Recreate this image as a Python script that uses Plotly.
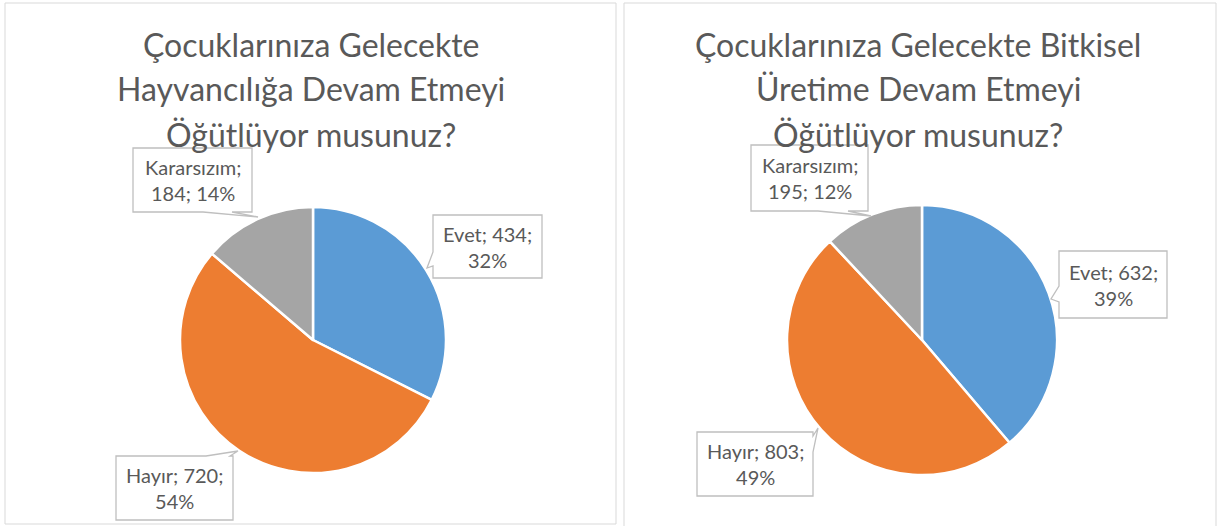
import plotly.graph_objects as go

W, H = 1220, 526

categories = ["Evet", "Hayır", "Kararsızım"]
left_values = [434, 720, 184]
left_pcts = ["32%", "54%", "14%"]
right_values = [632, 803, 195]
right_pcts = ["39%", "49%", "12%"]
left_title = ["Çocuklarınıza Gelecekte", "Hayvancılığa Devam Etmeyi", "Öğütlüyor musunuz?"]
right_title = ["Çocuklarınıza Gelecekte Bitkisel", "Üretime Devam Etmeyi", "Öğütlüyor musunuz?"]
colors = ["#5B9BD5", "#ED7D31", "#A5A5A5"]

FONT = "Lato, 'Open Sans', sans-serif"
TXT = "#595959"

def px(x):
    return x / W

def py(y):
    return 1 - y / H

fig = go.Figure()

# pie geometry (pixels): center x, center y, radius
pies = [
    dict(vals=left_values, pcts=left_pcts, cx=313, cy=340, r=133, title=left_title, tx=311,
         boxes=[(433, 215, 542, 278), (116, 456, 233, 520), (133, 148, 252, 212)],
         ptrs=[("left", 252, 266, (427, 268)), ("top", 206, 230, (238, 451)), ("bottom", 203, 232, (258, 217))]),
    dict(vals=right_values, pcts=right_pcts, cx=922, cy=340, r=135, title=right_title, tx=918,
         boxes=[(1059, 251, 1167, 318), (697, 432, 813, 496), (751, 145, 868, 211)],
         ptrs=[("left", 286, 302, (1051, 299)), ("right", 436, 452, (818, 428)), ("bottom", 818, 848, (871, 216))]),
]

shapes = []
annotations = []

# outer chart frames
for (x0, y0, x1, y1) in [(5, 3, 616, 524), (624, 3, 1216, 530)]:
    shapes.append(dict(type="rect", xref="paper", yref="paper", x0=px(x0), x1=px(x1), y0=py(y1), y1=py(y0),
                       line=dict(color="#D9D9D9", width=1), fillcolor="rgba(0,0,0,0)", layer="below"))

for p in pies:
    cx, cy, r = p["cx"], p["cy"], p["r"]
    fig.add_trace(go.Pie(
        labels=categories, values=p["vals"], sort=False, direction="clockwise", rotation=0,
        marker=dict(colors=colors, line=dict(color="white", width=2.5)),
        textinfo="none", hoverinfo="label+value+percent", showlegend=False,
        domain=dict(x=[px(cx - r), px(cx + r)], y=[py(cy + r), py(cy - r)]),
    ))
    # title lines
    for i, line in enumerate(p["title"]):
        annotations.append(dict(x=px(p["tx"]), y=py(44 + i * 45), xref="paper", yref="paper",
                                text=line, showarrow=False, xanchor="center", yanchor="middle",
                                font=dict(family=FONT, size=32, color=TXT)))
    # callouts
    for k, (box, ptr) in enumerate(zip(p["boxes"], p["ptrs"])):
        x0, y0, x1, y1 = box
        side, a, b, (tx, ty) = ptr
        if side == "left":
            pts = [(x0, y0), (x1, y0), (x1, y1), (x0, y1), (x0, b), (tx, ty), (x0, a)]
        elif side == "right":
            pts = [(x0, y0), (x1, y0), (x1, a), (tx, ty), (x1, b), (x1, y1), (x0, y1)]
        elif side == "top":
            pts = [(x0, y0), (a, y0), (tx, ty), (b, y0), (x1, y0), (x1, y1), (x0, y1)]
        else:
            pts = [(x0, y0), (x1, y0), (x1, y1), (b, y1), (tx, ty), (a, y1), (x0, y1)]
        path = "M " + " L ".join(f"{px(x):.5f},{py(y):.5f}" for x, y in pts) + " Z"
        shapes.append(dict(type="path", xref="paper", yref="paper", path=path,
                           line=dict(color="#BFBFBF", width=1.3), fillcolor="white", layer="above"))
        name = categories[k]
        val = p["vals"][k]
        pct = p["pcts"][k]
        if name == "Kararsızım":
            text = f"{name};<br>{val}; {pct}"
        else:
            text = f"{name}; {val};<br>{pct}"
        annotations.append(dict(x=px((x0 + x1) / 2), y=py((y0 + y1) / 2), xref="paper", yref="paper",
                                text=text, showarrow=False, xanchor="center", yanchor="middle",
                                font=dict(family=FONT, size=20, color=TXT)))

fig.update_layout(
    width=W, height=H, margin=dict(l=0, r=0, t=0, b=0),
    paper_bgcolor="white", plot_bgcolor="white",
    shapes=shapes, annotations=annotations,
)

fig.write_html("out.html", config={"displayModeBar": False},
               post_script="document.body.style.margin='0px';")
